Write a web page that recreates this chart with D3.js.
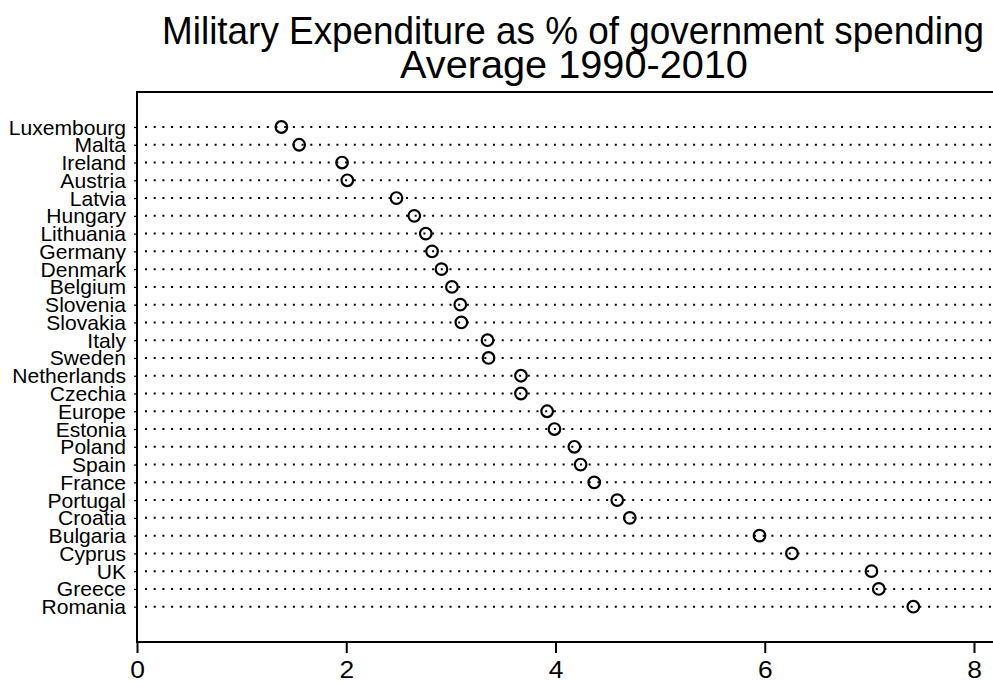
<!DOCTYPE html>
<html>
<head>
<meta charset="utf-8">
<script src="https://cdn.jsdelivr.net/npm/d3@7"></script>
<style>
  html, body { margin: 0; padding: 0; background: #fff; }
  svg { display: block; }
  text { font-family: "Liberation Sans", Arial, Helvetica, sans-serif; fill: #000; }
</style>
</head>
<body>
<svg id="chart" width="993" height="682"></svg>
<script>
const countries = ["Luxembourg","Malta","Ireland","Austria","Latvia","Hungary","Lithuania","Germany","Denmark","Belgium","Slovenia","Slovakia","Italy","Sweden","Netherlands","Czechia","Europe","Estonia","Poland","Spain","France","Portugal","Croatia","Bulgaria","Cyprus","UK","Greece","Romania"];
const values = [1.38,1.55,1.96,2.01,2.48,2.65,2.76,2.82,2.91,3.01,3.09,3.10,3.35,3.36,3.67,3.67,3.92,3.99,4.18,4.24,4.37,4.59,4.71,5.95,6.26,7.02,7.09,7.42];
const xTicks = [0,2,4,6,8];
const titleLines = ["Military Expenditure as % of government spending","Average 1990-2010"];

(function () {
const W = 993, H = 682;
const mLeft = 137, mTop = 92, mBottom = 642;
const svg = d3.select("#chart");

const x = d3.scaleLinear().domain([0, 8]).range([mLeft, 974]);
const y = d3.scalePoint().domain(countries).range([127, 606.7]);

// title: fit each line to its target width, keeping glyph height
const titleSpec = [
  { text: titleLines[0], cx: 573, base: 44, width: 822 },
  { text: titleLines[1], cx: 574, base: 78, width: 348 }
];
titleSpec.forEach(s => {
  const t = svg.append("text").attr("text-anchor", "middle").attr("font-size", 38).text(s.text);
  const len = t.node().getComputedTextLength();
  const fs = 38 * s.width / len;
  const sy = 38 / fs;
  t.attr("font-size", fs).attr("x", 0).attr("y", 0)
   .attr("transform", `translate(${s.cx},${s.base}) scale(1,${sy})`);
});

// dotted lines
svg.append("g").selectAll("line").data(countries).join("line")
  .attr("x1", mLeft + 8).attr("x2", W)
  .attr("y1", d => y(d)).attr("y2", d => y(d))
  .attr("stroke", "#000").attr("stroke-width", 2)
  .attr("stroke-dasharray", "2,6.7");

// box: top and left
svg.append("line").attr("x1", mLeft).attr("x2", W).attr("y1", mTop).attr("y2", mTop)
  .attr("stroke", "#000").attr("stroke-width", 2);
svg.append("line").attr("x1", mLeft).attr("x2", mLeft).attr("y1", mTop - 1).attr("y2", mBottom + 1)
  .attr("stroke", "#000").attr("stroke-width", 2);

// bottom axis
const xAxis = svg.append("g").attr("transform", `translate(0,${mBottom})`)
  .call(d3.axisBottom(x).tickValues(xTicks).tickSize(11).tickSizeOuter(0).tickFormat(d3.format("d")));
xAxis.select(".domain").attr("d", `M${mLeft},0H${W}`).attr("stroke", "#000").attr("stroke-width", 2);
xAxis.selectAll(".tick line").attr("stroke", "#000").attr("stroke-width", 2);
xAxis.selectAll(".tick text")
  .attr("font-size", 24).attr("font-family", "Liberation Sans, Arial, sans-serif")
  .attr("y", 0).attr("dy", 0)
  .attr("transform", "translate(0,36) scale(1.1,1)");

// left axis ticks + labels
const yAxis = svg.append("g").attr("transform", `translate(${mLeft},0)`)
  .call(d3.axisLeft(y).tickSize(3).tickSizeOuter(0).tickPadding(0));
yAxis.select(".domain").remove();
yAxis.selectAll(".tick line").attr("stroke", "#000").attr("stroke-width", 1.2);
yAxis.selectAll(".tick text")
  .attr("font-size", 20).attr("font-family", "Liberation Sans, Arial, sans-serif")
  .attr("x", 0).attr("dy", 0).attr("y", 0)
  .attr("text-anchor", "end")
  .attr("transform", "translate(-11,7) scale(1.055,1)");

// circles
svg.append("g").selectAll("circle").data(countries).join("circle")
  .attr("cx", (d, i) => x(values[i])).attr("cy", d => y(d))
  .attr("r", 5.8).attr("fill", "none").attr("stroke", "#000").attr("stroke-width", 2.2);
})();
</script>
</body>
</html>
